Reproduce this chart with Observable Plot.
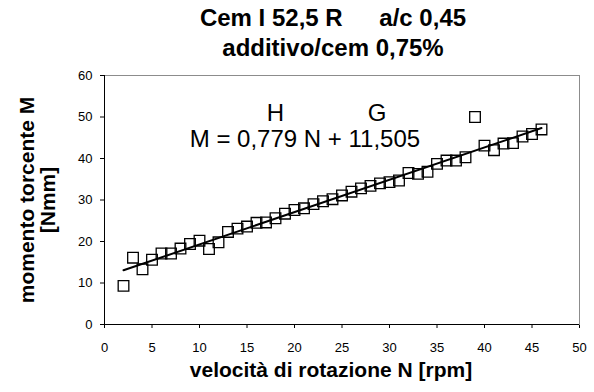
<!DOCTYPE html>
<html>
<head>
<meta charset="utf-8">
<script src="https://cdn.jsdelivr.net/npm/d3@7"></script>
<script src="https://cdn.jsdelivr.net/npm/@observablehq/plot@0.6"></script>
<style>
  html, body { margin: 0; padding: 0; background: #fff; }
  body { width: 594px; height: 392px; overflow: hidden; font-family: Arial, "Liberation Sans", sans-serif; color: #000; }
  #title { width: 594px; box-sizing: border-box; padding-top: 3px; padding-left: 72px; text-align: center; font-size: 24px; font-weight: bold; line-height: 30px; height: 64px; }
  #title .gap { margin-left: 30px; }
  #xtitle { width: 594px; box-sizing: border-box; padding-top: 4px; padding-left: 68px; text-align: center; font-size: 21px; font-weight: bold; line-height: 24px; }
  #chart svg { display: block; overflow: visible; }
</style>
</head>
<body>
<div id="title"><div>Cem I 52,5 R <span class="gap">a/c 0,45</span></div><div>additivo/cem 0,75%</div></div>
<div id="chart"></div>
<div id="xtitle">velocità di rotazione N [rpm]</div>
<script>
// Data
const speedN = [2, 3, 4, 5, 6, 7, 8, 9, 10, 11, 12, 13, 14, 15, 16, 17, 18, 19, 20, 21, 22, 23,
  24, 25, 26, 27, 28, 29, 30, 31, 32, 33, 34, 35, 36, 37, 38, 39, 40, 41, 42, 43, 44, 45, 46];
const torqueM = [9.3, 16.1, 13.3, 15.6, 17.1, 17.1, 18.3, 19.4, 20.2, 18.2, 19.8, 22.3, 23.1, 23.6,
  24.5, 24.6, 25.6, 26.7, 27.6, 28.0, 29.0, 29.7, 30.2, 31.1, 32.0, 32.8, 33.4, 34.0, 34.3, 34.7,
  36.5, 36.3, 36.8, 38.7, 39.5, 39.5, 40.3, 50.0, 43.1, 42.0, 43.6, 43.7, 45.3, 45.9, 47.0];
const fitSlope = 0.779;
const fitIntercept = 11.505;
const fitRange = [2, 46];
const xTicks = [0, 5, 10, 15, 20, 25, 30, 35, 40, 45, 50];
const yTicks = [0, 10, 20, 30, 40, 50, 60];
const yTitle = "momento torcente M\n[Nmm]";
const annotationText = ["H", "G", "M = 0,779 N + 11,505"];
const annotationX = [18, 28.7, 21.1];
const annotationY = [51, 51, 44.7];

const points = speedN.map((n, i) => ({n, m: torqueM[i]}));
const fit = fitRange.map(n => ({n, m: fitSlope * n + fitIntercept}));
const notes = annotationText.map((t, i) => ({t, x: annotationX[i], y: annotationY[i]}));

const chart = Plot.plot({
  width: 594,
  height: 290,
  marginLeft: 104,
  marginRight: 15,
  marginTop: 11,
  marginBottom: 30,
  style: {fontFamily: "Arial, 'Liberation Sans', sans-serif", fontSize: "13px", color: "#000", background: "#fff", overflow: "visible"},
  x: {domain: [0, 50], ticks: xTicks, tickSize: 4, tickPadding: 14, label: null},
  y: {domain: [0, 60], ticks: yTicks, tickSize: 4, tickPadding: 8, label: null},
  marks: [
    Plot.frame({stroke: "#8c8c8c", strokeWidth: 1}),
    Plot.ruleX([0], {stroke: "#000", strokeWidth: 1}),
    Plot.ruleY([0], {stroke: "#000", strokeWidth: 1}),
    Plot.dot(points, {x: "n", y: "m", symbol: "square", r: 6, stroke: "#000", strokeWidth: 1.3, fill: "none"}),
    Plot.line(fit, {x: "n", y: "m", stroke: "#000", strokeWidth: 2}),
    Plot.text(notes, {x: "x", y: "y", text: "t", fontSize: 24, fill: "#000", lineAnchor: "middle"}),
    Plot.text([yTitle], {text: d => d, frameAnchor: "left", textAnchor: "middle", lineAnchor: "middle", rotate: -90, dx: -67, fontSize: 21, fontWeight: "bold", lineHeight: 1.0, fill: "#000"})
  ]
});
document.getElementById("chart").appendChild(chart);
</script>
</body>
</html>
